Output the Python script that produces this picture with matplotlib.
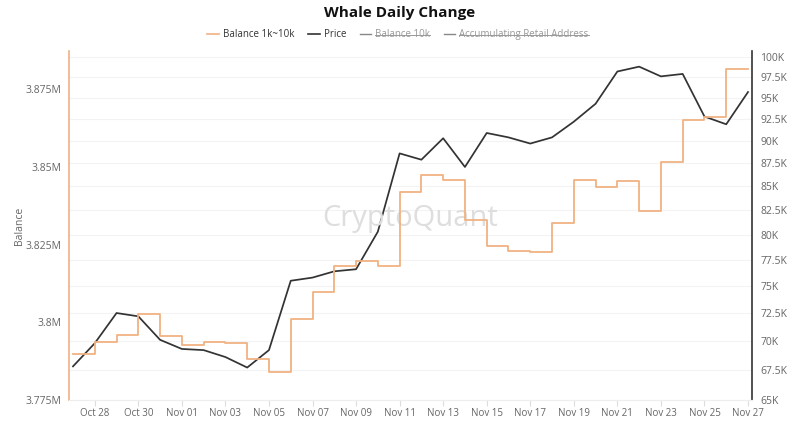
import matplotlib
matplotlib.use("Agg")
import matplotlib.pyplot as plt
import matplotlib.dates as mdates
import matplotlib.ticker as mticker
from matplotlib.lines import Line2D
import pandas as pd

plt.rcParams['font.family'] = ['Open Sans', 'DejaVu Sans']

# daily data, Oct 27 .. Nov 27 (2024)
dates = pd.date_range("2024-10-27", "2024-11-27", freq="D")

balance_1k_10k = [3.7899, 3.7938, 3.7958, 3.8025, 3.7957, 3.7928, 3.7935, 3.7932,
                  3.7883, 3.7841, 3.8009, 3.8096, 3.8180, 3.8196, 3.8180, 3.8419,
                  3.8474, 3.8457, 3.8328, 3.8245, 3.8228, 3.8225, 3.8319, 3.8457,
                  3.8435, 3.8454, 3.8357, 3.8515, 3.8651, 3.8661, 3.8815, 3.8815]
balance_1k_10k = [v * 1e6 for v in balance_1k_10k]

price = [67.8, 69.8, 72.5, 72.2, 70.1, 69.3, 69.2, 68.6, 67.7, 69.2, 75.5, 75.8,
         76.4, 76.6, 80.3, 88.6, 87.9, 90.3, 87.1, 90.9, 90.4, 89.7, 90.4, 92.2,
         94.3, 98.2, 98.8, 97.6, 97.9, 92.8, 91.9, 95.7]
price = [v * 1000 for v in price]

x_ticks = pd.date_range("2024-10-28", "2024-11-27", freq="2D")
left_ticks = [3.775e6, 3.8e6, 3.825e6, 3.85e6, 3.875e6]
left_labels = ["3.775M", "3.8M", "3.825M", "3.85M", "3.875M"]
right_ticks = [65000 + 2500 * i for i in range(15)]
right_labels = ["65K", "67.5K", "70K", "72.5K", "75K", "77.5K", "80K", "82.5K",
                "85K", "87.5K", "90K", "92.5K", "95K", "97.5K", "100K"]

legend_names = ["Balance 1k~10k", "Price", "Balance 10k", "Accumulating Retail Address"]

orange = "#f1b283"
dark = "#333333"
label_col = "#666666"

fig = plt.figure(figsize=(8, 4.21), dpi=100)
ax = fig.add_axes([0.08625, 0.05, 0.85375, 0.8277])
ax2 = ax.twinx()

# price on log scale (right)
ax2.set_yscale("log")
ax2.plot(dates, price, color=dark, lw=1.25, zorder=3)
ax2.set_ylim(65000, 100700)
ax2.yaxis.set_major_locator(mticker.FixedLocator(right_ticks))
ax2.yaxis.set_major_formatter(mticker.FixedFormatter(right_labels))
ax2.yaxis.set_minor_locator(mticker.NullLocator())
ax2.yaxis.set_minor_formatter(mticker.NullFormatter())
ax2.grid(axis="y", color="#f3f3f3", lw=0.8)
ax2.tick_params(axis="y", length=0, pad=6, labelsize=7.5, labelcolor=label_col)

# balance step line (left)
ax.step(dates, balance_1k_10k, where="post", color=orange, lw=1.3, zorder=4)
ax.set_ylim(3.775e6, 3.8871e6)
ax.set_yticks(left_ticks)
ax.set_yticklabels(left_labels)
ax.tick_params(axis="y", length=0, pad=5.5, labelsize=7.5, labelcolor=label_col)
ax.set_ylabel("Balance", fontsize=7.5, color=label_col)
ax.yaxis.set_label_coords(-0.064, 0.5)

ax.set_xlim(dates[0] - pd.Timedelta(hours=4.4), dates[-1] + pd.Timedelta(hours=4.4))
ax.set_xticks(x_ticks)
ax.xaxis.set_major_formatter(mdates.DateFormatter("%b %d"))
ax.tick_params(axis="x", length=4, color="#dddddd", labelsize=7, labelcolor=label_col, pad=2)

for a in (ax, ax2):
    a.spines["top"].set_visible(False)
    a.spines["bottom"].set_color("#eeeeee")
ax.spines["right"].set_visible(False)
ax2.spines["left"].set_color(orange)
ax2.spines["left"].set_linewidth(1.2)
ax2.spines["right"].set_color(dark)
ax2.spines["right"].set_linewidth(1.2)
ax.spines["left"].set_visible(False)

ax.set_zorder(ax2.get_zorder() + 1)
ax.patch.set_visible(False)

# watermark
ax.text(0.50, 0.52, "CryptoQuant", transform=ax.transAxes, fontsize=21,
        color="#dedede", ha="center", va="center", zorder=0)

fig.suptitle("Whale Daily Change", y=0.985, fontsize=11, fontweight="bold", color="#111111")

handles = [Line2D([], [], color=orange, lw=1.2),
           Line2D([], [], color=dark, lw=1.2),
           Line2D([], [], color="#888888", lw=1.0),
           Line2D([], [], color="#888888", lw=1.0)]
leg = fig.legend(handles, legend_names, loc="center", bbox_to_anchor=(0.4975, 0.918),
                 ncol=4, frameon=False, fontsize=7, handlelength=1.2,
                 handletextpad=0.4, columnspacing=1.4)
texts = leg.get_texts()
texts[0].set_color("#333333")
texts[1].set_color("#333333")
texts[2].set_color("#999999")
texts[3].set_color("#999999")

# strike-through for hidden series
fig.canvas.draw()
inv = fig.transFigure.inverted()
for t in texts[2:]:
    bb = t.get_window_extent().transformed(inv)
    ymid = (bb.y0 + bb.y1) / 2
    fig.add_artist(Line2D([bb.x0, bb.x1], [ymid, ymid], transform=fig.transFigure,
                          color="#999999", lw=0.7))

fig.savefig("out.png", dpi=100)
